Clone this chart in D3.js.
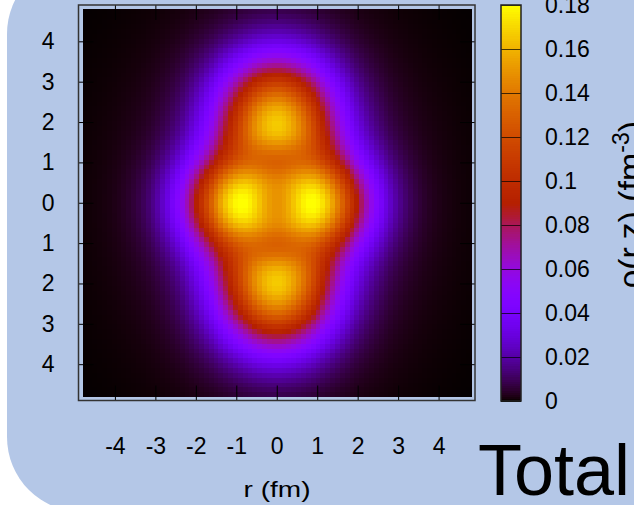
<!DOCTYPE html>
<html>
<head>
<meta charset="utf-8">
<script src="https://cdnjs.cloudflare.com/ajax/libs/d3/7.8.5/d3.min.js"></script>
<style>
  body { margin: 0; background: #fff; }
  svg text { font-family: "Liberation Sans", Arial, Helvetica, sans-serif; fill: #000; }
</style>
</head>
<body>
<svg id="chart" width="634" height="505"></svg>
<script>
// axis ticks as printed on the figure (z labels lose their minus sign)
var rTicks = [-4, -3, -2, -1, 0, 1, 2, 3, 4];
var rTickLabels = ["-4", "-3", "-2", "-1", "0", "1", "2", "3", "4"];
var zTicks = [4, 3, 2, 1, 0, -1, -2, -3, -4];
var zTickLabels = ["4", "3", "2", "1", "0", "1", "2", "3", "4"];
var cbTicks = [0, 0.02, 0.04, 0.06, 0.08, 0.1, 0.12, 0.14, 0.16, 0.18];
var cbTickLabels = ["0", "0.02", "0.04", "0.06", "0.08", "0.1", "0.12", "0.14", "0.16", "0.18"];

// density: four alpha-like blobs (r, z in fm, amplitude in fm^-3),
// dips at the centre and at the two necks, and a broad halo
var clusterR = [-0.92, 0.92, 0, 0, 0, 0, 0, 0];
var clusterZ = [0, 0, 2.1, -2.1, 0, 1.05, -1.05, 0];
var clusterAmp = [0.131, 0.131, 0.14, 0.14, -0.079, -0.043, -0.043, 0.03];
var clusterWidthR = [1.34, 1.34, 1.38, 1.38, 0.77, 0.95, 0.95, 2.4];
var clusterWidthZ = [1.18, 1.18, 1.48, 1.48, 0.8, 0.55, 0.55, 3.2];

// sampling mesh of the map (fm)
var meshMin = -4.8, meshMax = 4.8, meshN = 80;

var svg = d3.select("#chart");

// light blue panel behind everything
svg.append("rect")
  .attr("x", 7).attr("y", -41)
  .attr("width", 760).attr("height", 553)
  .attr("rx", 75).attr("ry", 75)
  .attr("fill", "#b4c7e7");

var x = d3.scaleLinear().domain([-4.9, 4.9]).range([78.5, 475]);
var y = d3.scaleLinear().domain([4.9, -4.9]).range([5, 400.5]);

// gnuplot default palette (rgbformulae 7,5,15)
function pm3d(t) {
  var r = Math.sqrt(t), g = t * t * t, b = Math.sin(2 * Math.PI * t);
  b = Math.max(0, b);
  return d3.rgb(r * 255, g * 255, b * 255).toString();
}
var color = d3.scaleSequential(pm3d).domain([0, 0.18]).clamp(true);

function density(r, z) {
  var s = 0;
  for (var i = 0; i < clusterR.length; i++) {
    var dr = (r - clusterR[i]) / clusterWidthR[i];
    var dz = (z - clusterZ[i]) / clusterWidthZ[i];
    s += clusterAmp[i] * Math.exp(-dr * dr - dz * dz);
  }
  return Math.max(0, s);
}

var step = (meshMax - meshMin) / meshN;
var cells = [];
for (var i = 0; i < meshN; i++) {
  for (var j = 0; j < meshN; j++) {
    var r0 = meshMin + i * step, z0 = meshMin + j * step;
    cells.push({r0: r0, z0: z0, v: density(r0 + step / 2, z0 + step / 2)});
  }
}

svg.append("g")
  .selectAll("rect")
  .data(cells)
  .enter()
  .append("rect")
    .attr("x", d => x(d.r0))
    .attr("y", d => y(d.z0 + step))
    .attr("width", x(step) - x(0) + 0.6)
    .attr("height", y(0) - y(step) + 0.6)
    .attr("fill", d => color(d.v))
    .attr("shape-rendering", "crispEdges");

// inward ticks on all four sides
var tickLen = 15;
svg.append("g").attr("transform", "translate(0,400.5)")
  .call(d3.axisBottom(x).tickValues(rTicks).tickSize(-tickLen).tickPadding(37)
    .tickFormat((d, i) => rTickLabels[i]))
  .call(g => g.select(".domain").remove())
  .call(g => g.selectAll("text").attr("font-size", 23).attr("font-family", null))
  .call(g => g.selectAll("line").attr("stroke", "#000"));

svg.append("g").attr("transform", "translate(0,5)")
  .call(d3.axisTop(x).tickValues(rTicks).tickSize(-tickLen).tickFormat(""))
  .call(g => g.select(".domain").remove())
  .call(g => g.selectAll("line").attr("stroke", "#000"));

svg.append("g").attr("transform", "translate(78.5,0)")
  .call(d3.axisLeft(y).tickValues(zTicks).tickSize(-tickLen).tickPadding(24)
    .tickFormat((d, i) => zTickLabels[i]))
  .call(g => g.select(".domain").remove())
  .call(g => g.selectAll("text").attr("font-size", 23).attr("font-family", null))
  .call(g => g.selectAll("line").attr("stroke", "#000"));

svg.append("g").attr("transform", "translate(475,0)")
  .call(d3.axisRight(y).tickValues(zTicks).tickSize(-tickLen).tickFormat(""))
  .call(g => g.select(".domain").remove())
  .call(g => g.selectAll("line").attr("stroke", "#000"));

// plot frame
svg.append("rect")
  .attr("x", 78.5).attr("y", 5)
  .attr("width", 475 - 78.5).attr("height", 400.5 - 5)
  .attr("fill", "none").attr("stroke", "#333").attr("stroke-width", 1.5);

// colour box
var cb = d3.scaleLinear().domain([0, 0.18]).range([401, 5]);
var cbX = 501, cbW = 20;
var cbSteps = d3.range(0, 0.18, 0.001);
svg.append("g")
  .selectAll("rect")
  .data(cbSteps)
  .enter()
  .append("rect")
    .attr("x", cbX)
    .attr("y", d => cb(d + 0.001))
    .attr("width", cbW)
    .attr("height", cb(0) - cb(0.001) + 0.5)
    .attr("fill", d => color(d + 0.0005))
    .attr("shape-rendering", "crispEdges");

svg.append("g").attr("transform", "translate(" + cbX + ",0)")
  .call(d3.axisRight(cb).tickValues(cbTicks).tickSize(cbW).tickPadding(24)
    .tickFormat((d, i) => cbTickLabels[i]))
  .call(g => g.select(".domain").remove())
  .call(g => g.selectAll("line").attr("stroke", "#000").attr("stroke-opacity", 0.7))
  .call(g => g.selectAll("text").attr("font-size", 23).attr("font-family", null));

svg.append("rect")
  .attr("x", cbX).attr("y", 5)
  .attr("width", cbW).attr("height", 396)
  .attr("fill", "none").attr("stroke", "#222").attr("stroke-width", 1.5);

// axis titles
svg.append("text")
  .attr("x", 277).attr("y", 497)
  .attr("text-anchor", "middle")
  .attr("font-size", 22)
  .attr("textLength", 67).attr("lengthAdjust", "spacingAndGlyphs")
  .text("r (fm)");

var cbTitle = svg.append("text")
  .attr("transform", "translate(642,205) rotate(-90)")
  .attr("text-anchor", "middle")
  .attr("font-size", 34);
cbTitle.append("tspan").text("ρ(r,z)  (fm");
cbTitle.append("tspan").attr("baseline-shift", "super").attr("font-size", 23).text("-3");
cbTitle.append("tspan").text(")");

svg.append("text")
  .attr("x", 478).attr("y", 495)
  .attr("font-size", 72)
  .text("Total");
</script>
</body>
</html>
